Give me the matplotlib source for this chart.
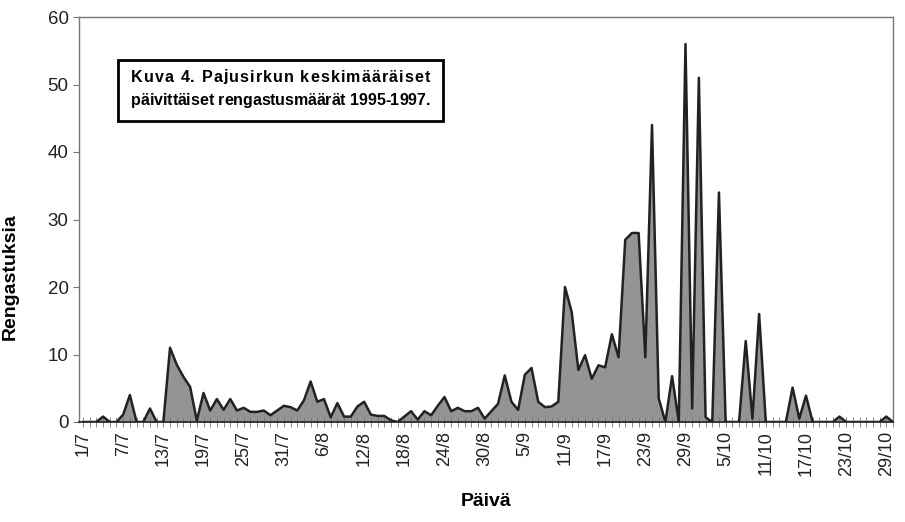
import numpy as np
import matplotlib.pyplot as plt
from matplotlib.patches import Rectangle
from matplotlib.font_manager import FontProperties, findfont, get_font

plt.rcParams['font.family'] = 'Liberation Sans'

# daily mean ringing counts, 1/7 .. 31/10
vals = [0, 0, 0, 0.8, 0, 0, 1.1, 4, 0, 0,
        2, 0, 0, 11, 8.5, 6.7, 5.2, 0.2, 4.3, 1.7,
        3.4, 1.8, 3.4, 1.7, 2.1, 1.5, 1.5, 1.7, 1.0, 1.7,
        2.4, 2.2, 1.7, 3.2, 6, 3, 3.4, 0.7, 2.8, 0.8,
        0.8, 2.3, 3.0, 1.1, 0.9, 0.9, 0.25, 0, 0.8, 1.6,
        0.35, 1.6, 1.0, 2.4, 3.7, 1.6, 2.1, 1.6, 1.6, 2.1,
        0.5, 1.6, 2.7, 6.9, 3.0, 1.8, 7, 8, 3, 2.2,
        2.3, 3.0, 20, 16.3, 7.7, 9.9, 6.4, 8.4, 8.1, 13,
        9.6, 27, 28, 28, 9.6, 44, 3.5, 0, 6.8, 0,
        56, 2, 51, 0.7, 0, 34, 0, 0, 0, 12,
        0.5, 16, 0, 0, 0, 0, 5.1, 0.5, 3.9, 0,
        0, 0, 0, 0.8, 0, 0, 0, 0, 0, 0,
        0.8, 0]

tick_pos = list(range(0, 121, 6))
tick_labels = ['1/7', '7/7', '13/7', '19/7', '25/7', '31/7', '6/8', '12/8',
               '18/8', '24/8', '30/8', '5/9', '11/9', '17/9', '23/9', '29/9',
               '5/10', '11/10', '17/10', '23/10', '29/10']

title1 = 'Kuva 4. Pajusirkun keskimääräiset'
title2 = 'päivittäiset rengastusmäärät 1995-1997.'

W, H = 905, 522
fig = plt.figure(figsize=(W / 100, H / 100), dpi=100)
ax = fig.add_axes([79 / W, 1 - 422 / H, 814 / W, 405 / H])

x = np.arange(len(vals))
ax.fill_between(x, vals, color='#949494', lw=0)
ax.plot(x, vals, color='#222222', lw=1.8)

ax.set_xlim(-0.6, 120.9)
ax.set_ylim(0, 60)
ax.set_yticks(range(0, 61, 10))
ax.set_xticks(tick_pos)
ax.set_xticklabels(tick_labels, rotation=90)
ax.set_xticks(x, minor=True)
ax.tick_params(axis='y', labelsize=13.5, length=4, color='#777777', labelcolor='#222222')
ax.tick_params(axis='x', which='both', direction='inout', length=7, width=0.6,
               color='#777777', labelsize=13, labelcolor='#222222')
ax.tick_params(axis='x', which='major', pad=3)

for s in ['top', 'right', 'left']:
    ax.spines[s].set_color('#777777')
    ax.spines[s].set_linewidth(1)
ax.spines['bottom'].set_color('#222222')
ax.spines['bottom'].set_linewidth(1.2)

ax.set_ylabel('Rengastuksia', fontsize=14, fontweight='bold')
ax.yaxis.set_label_coords(-0.074, 0.36)
ax.set_xlabel('Päivä', fontsize=14, fontweight='bold', labelpad=12)

# title box with justified lines
fig.add_artist(Rectangle((118 / W, 1 - 121 / H), 325 / W, 61 / H,
                         transform=fig.transFigure, fill=False, lw=2, ec='black'))

fp = FontProperties(family='Liberation Sans', weight='bold', size=11.5)
font = get_font(findfont(fp))
font.set_size(11.5, 100)


def justified(line, x0, x1, y):
    adv = [font.load_char(ord(c)).linearHoriAdvance / 65536 for c in line]
    gap = (x1 - x0 - sum(adv)) / (len(line) - 1)
    pos = x0
    for c, a in zip(line, adv):
        fig.text(pos / W, 1 - y / H, c, fontproperties=fp, va='center', ha='left')
        pos += a + gap


justified(title1, 131, 430, 77)
justified(title2, 131, 430, 100)

fig.savefig('out.png', dpi=100)
